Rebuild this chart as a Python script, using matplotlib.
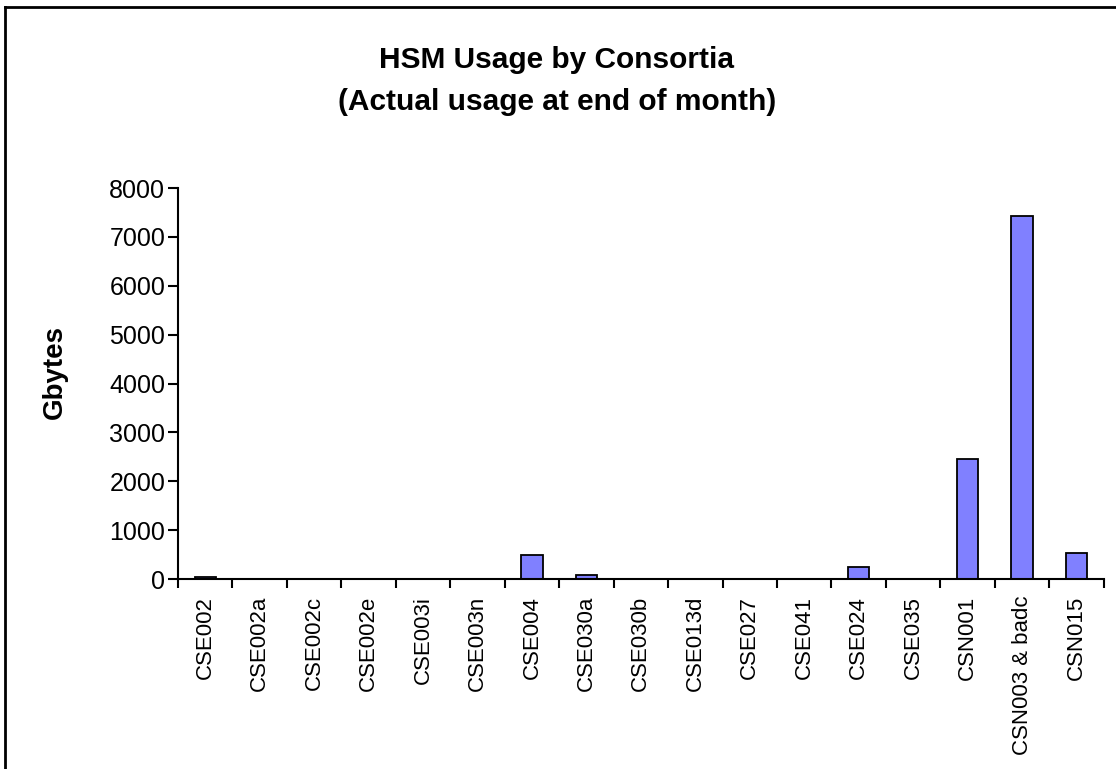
import numpy as np
import matplotlib
matplotlib.use("Agg")
from matplotlib import pyplot as plt
from matplotlib.lines import Line2D

plt.rcParams['font.family'] = ['Liberation Sans', 'DejaVu Sans']

# HSM usage per consortium, Gbytes at end of month
consortia = ['CSE002', 'CSE002a', 'CSE002c', 'CSE002e', 'CSE003i', 'CSE003n',
             'CSE004', 'CSE030a', 'CSE030b', 'CSE013d', 'CSE027', 'CSE041',
             'CSE024', 'CSE035', 'CSN001', 'CSN003 & badc', 'CSN015']
usage = [40, 0, 0, 0, 0, 0, 495, 90, 0, 0, 0, 0, 250, 0, 2450, 7430, 535]
yticks = [0, 1000, 2000, 3000, 4000, 5000, 6000, 7000, 8000]

fig = plt.figure(figsize=(11.16, 7.69), dpi=100)
ax = fig.add_axes([0.1595, 0.247, 0.8295, 0.5085])

x = np.arange(len(consortia))
ax.bar(x, usage, width=0.39, color='#8080FF', edgecolor='black', linewidth=1.3)

ax.set_xlim(-0.5, len(consortia) - 0.5)
ax.set_ylim(0, 8000)
ax.set_yticks(yticks)
ax.set_yticklabels([str(t) for t in yticks], fontsize=18)

# tick marks sit between categories, labels sit under the bars
ax.set_xticks(np.arange(len(consortia) + 1) - 0.5)
ax.set_xticklabels([])
ax.set_xticks(x, minor=True)
ax.set_xticklabels(consortia, minor=True, rotation=90, fontsize=16)
ax.tick_params(axis='x', which='major', direction='out', length=6.5, width=1.5)
ax.tick_params(axis='x', which='minor', length=0, pad=12)
ax.tick_params(axis='y', direction='out', length=7.2, width=1.5, pad=2)

for side in ['top', 'right']:
    ax.spines[side].set_visible(False)
for side in ['left', 'bottom']:
    ax.spines[side].set_linewidth(1.5)

ax.set_ylabel('Gbytes', fontsize=20, fontweight='bold')
ax.yaxis.set_label_coords(-0.119, 0.53)

fig.text(0.499, 0.922, 'HSM Usage by Consortia', ha='center', va='center',
         fontsize=21.5, fontweight='bold')
fig.text(0.499, 0.867, '(Actual usage at end of month)', ha='center', va='center',
         fontsize=21.5, fontweight='bold')

# chart-area frame, cut off on the right and bottom
fig.add_artist(Line2D([5 / 1116, 5 / 1116], [1 - 7 / 769, 0], color='black',
                      linewidth=2, transform=fig.transFigure))
fig.add_artist(Line2D([5 / 1116, 1], [1 - 7 / 769, 1 - 7 / 769], color='black',
                      linewidth=2, transform=fig.transFigure))

fig.savefig('out.png', dpi=100)
